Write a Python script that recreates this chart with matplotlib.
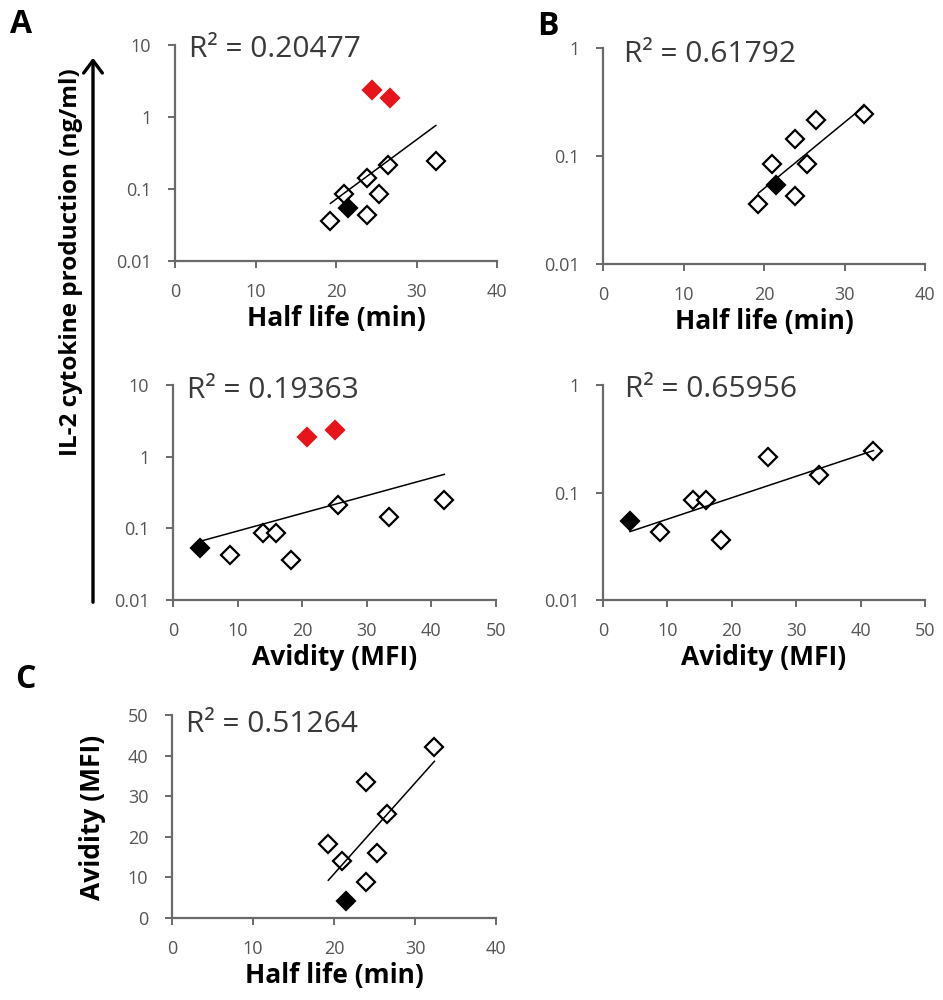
import numpy as np
import matplotlib.pyplot as plt
from matplotlib.patches import FancyArrowPatch

plt.rcParams['font.family'] = ['Open Sans', 'DejaVu Sans']

# open diamonds
half_life = [19.3, 21.0, 23.9, 23.9, 25.3, 26.5, 32.4]
avidity = [18.3, 14.0, 8.9, 33.5, 16.0, 25.6, 42.0]
il2 = [0.036, 0.085, 0.043, 0.144, 0.085, 0.215, 0.245]
# black diamond
half_life_blk = [21.5]
avidity_blk = [4.2]
il2_blk = [0.054]
# red diamonds
half_life_red = [24.5, 26.75]
avidity_red = [25.1, 20.7]
il2_red = [2.35, 1.86]

r2_text = ["R² = 0.20477", "R² = 0.61792", "R² = 0.19363", "R² = 0.65956", "R² = 0.51264"]

W, H = 943, 1000
fig = plt.figure(figsize=(W / 100, H / 100), dpi=100)

AX_COL = '#6a6a6a'
TICK_COL = '#555555'
MS = 9


def box(l, r, t, b):
    return [l / W, 1 - b / H, (r - l) / W, (b - t) / H]


def setup(ax, xmax, xstep, ylog, yticks, ylabels, xlabel):
    for s in ['top', 'right']:
        ax.spines[s].set_visible(False)
    for s in ['left', 'bottom']:
        ax.spines[s].set_color(AX_COL)
        ax.spines[s].set_linewidth(1.6)
    ax.set_xlim(0, xmax)
    ax.set_xticks(np.arange(0, xmax + 1, xstep))
    if ylog:
        ax.set_yscale('log')
        ax.minorticks_off()
    ax.set_ylim(yticks[0], yticks[-1])
    ax.set_yticks(yticks, ylabels)
    ax.tick_params(axis='both', colors=AX_COL, labelcolor=TICK_COL,
                   labelsize=13, length=5, width=1.4)
    ax.tick_params(axis='x', pad=11)
    ax.tick_params(axis='y', pad=12)
    ax.set_xlabel(xlabel, fontsize=19, fontweight='bold', labelpad=3)
    ax.set_facecolor('none')


def scatter(ax, x, y, xb, yb, xr=None, yr=None):
    ax.plot(x, y, 'D', ms=MS, mfc='white', mec='black', mew=1.6, zorder=3, clip_on=False)
    ax.plot(xb, yb, 'D', ms=MS, mfc='black', mec='black', mew=1.6, zorder=3, clip_on=False)
    if xr is not None:
        ax.plot(xr, yr, 'D', ms=MS, mfc='#e8141b', mec='#e8141b', mew=1.6, zorder=3, clip_on=False)


def trend(ax, x, y, log):
    x = np.asarray(x)
    y = np.asarray(y)
    yy = np.log10(y) if log else y
    p = np.polyfit(x, yy, 1)
    xs = np.array([x.min(), x.max()])
    ys = np.polyval(p, xs)
    if log:
        ys = 10 ** ys
    ax.plot(xs, ys, color='black', lw=1.1, zorder=4)


def r2(ax, txt, left_px, base_px):
    fig.text(left_px / W, 1 - base_px / H, txt, fontsize=21.5, color='#3a3a3a', va='baseline')


hl_all = half_life + half_life_blk
av_all = avidity + avidity_blk
il_all = il2 + il2_blk

# A top: IL-2 vs half life (with red)
ax1 = fig.add_axes(box(175, 497, 45, 261))
setup(ax1, 40, 10, True, [0.01, 0.1, 1, 10], ['0.01', '0.1', '1', '10'], 'Half life (min)')
scatter(ax1, half_life, il2, half_life_blk, il2_blk, half_life_red, il2_red)
trend(ax1, hl_all + half_life_red, il_all + il2_red, True)
r2(ax1, r2_text[0], 189, 57)

# B top: IL-2 vs half life
ax2 = fig.add_axes(box(603, 925, 48, 264))
setup(ax2, 40, 10, True, [0.01, 0.1, 1], ['0.01', '0.1', '1'], 'Half life (min)')
scatter(ax2, half_life, il2, half_life_blk, il2_blk)
trend(ax2, hl_all, il_all, True)
r2(ax2, r2_text[1], 624, 62)

# A bottom: IL-2 vs avidity (with red)
ax3 = fig.add_axes(box(173, 496, 385, 600))
setup(ax3, 50, 10, True, [0.01, 0.1, 1, 10], ['0.01', '0.1', '1', '10'], 'Avidity (MFI)')
scatter(ax3, avidity, il2, avidity_blk, il2_blk, avidity_red, il2_red)
trend(ax3, av_all + avidity_red, il_all + il2_red, True)
r2(ax3, r2_text[2], 187, 398)

# B bottom: IL-2 vs avidity
ax4 = fig.add_axes(box(603, 925, 385, 600))
setup(ax4, 50, 10, True, [0.01, 0.1, 1], ['0.01', '0.1', '1'], 'Avidity (MFI)')
scatter(ax4, avidity, il2, avidity_blk, il2_blk)
trend(ax4, av_all, il_all, True)
r2(ax4, r2_text[3], 625, 397)

# C: avidity vs half life
ax5 = fig.add_axes(box(172, 496, 715, 918))
setup(ax5, 40, 10, False, [0, 10, 20, 30, 40, 50], ['0', '10', '20', '30', '40', '50'], 'Half life (min)')
scatter(ax5, half_life, avidity, half_life_blk, avidity_blk)
trend(ax5, hl_all, av_all, False)
r2(ax5, r2_text[4], 186, 732)

# y labels and arrow
fig.text(71 / W, 1 - 262 / H, 'IL-2 cytokine production (ng/ml)', rotation=90,
         fontsize=17.5, fontweight='bold', ha='center', va='center')
fig.text(92 / W, 1 - 817 / H, 'Avidity (MFI)', rotation=90,
         fontsize=19, fontweight='bold', ha='center', va='center')
arrow = FancyArrowPatch((93 / W, 1 - 605 / H), (93 / W, 1 - 55 / H), transform=fig.transFigure,
                        arrowstyle='->,head_length=0.6,head_width=0.45', mutation_scale=15,
                        lw=2.4, color='black')
fig.add_artist(arrow)

# panel letters
for letter, x, y in [('A', 10, 33), ('B', 537, 35), ('C', 15, 688)]:
    fig.text(x / W, 1 - y / H, letter, fontsize=23, fontweight='bold', va='baseline')

fig.savefig('out.png', dpi=100)
